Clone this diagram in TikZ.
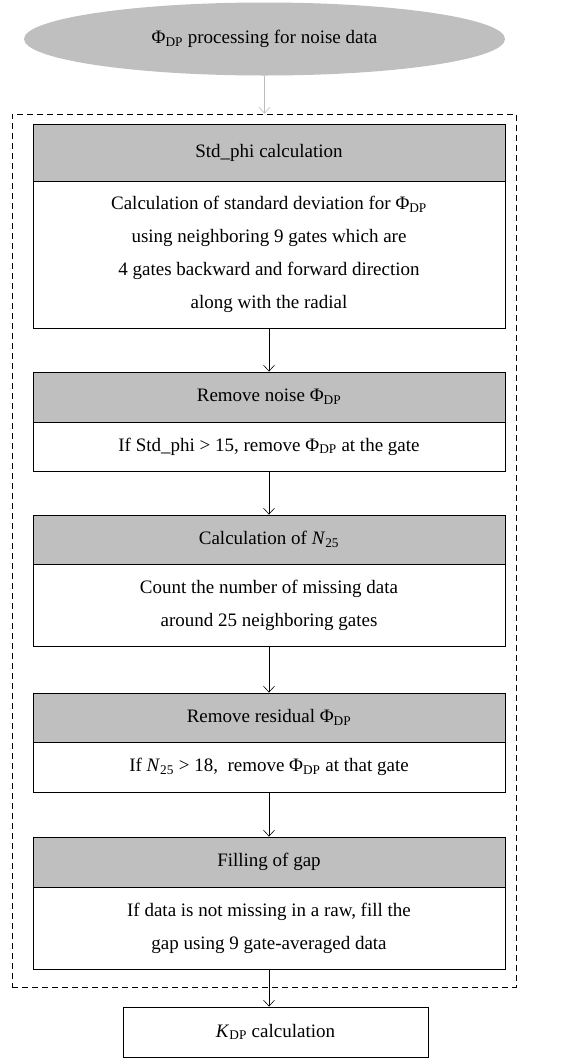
\documentclass[tikz,border=0pt]{standalone}
\usepackage{fontspec}
\setmainfont{Liberation Serif}
\usetikzlibrary{arrows.meta,shapes.geometric}
\definecolor{hdrgray}{RGB}{191,191,191}
\definecolor{linkgray}{RGB}{188,188,188}
\newcommand{\PhiDP}{Φ\textsubscript{DP}}
\newcommand{\Nsub}{\textit{N}\textsubscript{25}}
\newcommand{\Kdp}{\textit{K}\textsubscript{DP}}
\begin{document}
\begin{tikzpicture}[x=1pt,y=-1pt,
  every node/.style={font=\fontsize{19}{33}\selectfont, inner sep=0pt},
  hdr/.style={draw, fill=hdrgray, minimum width=472pt, line width=0.8pt},
  body/.style={draw, fill=white, minimum width=472pt, align=center, line width=0.8pt},
  arr/.style={-{Straight Barb[length=6pt,width=11pt]}, line width=0.6pt}]
\useasboundingbox (0,0) rectangle (588,1058);

% start terminal and the dashed processing frame
\node[ellipse, fill=hdrgray, minimum width=481pt, minimum height=73pt] (start) at (264.5,39) {\PhiDP\ processing for noise data};
\node[draw, dash pattern=on 6pt off 4pt, minimum width=504pt, minimum height=873pt, line width=0.7pt] (frame) at (264,550.5) {};

% processing steps: gray header over white body
\node[hdr, minimum height=57pt] (h1) at (269,152.5) {Std\_phi calculation};
\node[body, minimum height=147pt] (b1) at (269,254.5) {Calculation of standard deviation for \PhiDP\\ using neighboring 9 gates which are\\ 4 gates backward and forward direction\\ along with the radial};

\node[hdr, minimum height=50pt] (h2) at (269,397) {Remove noise \PhiDP};
\node[body, minimum height=49pt] (b2) at (269,446.5) {If Std\_phi > 15, remove \PhiDP\ at the gate};

\node[hdr, minimum height=49pt] (h3) at (269,539.5) {Calculation of \Nsub};
\node[body, minimum height=82pt] (b3) at (269,605) {Count the number of missing data\\ around 25 neighboring gates};

\node[hdr, minimum height=49pt] (h4) at (269,717.5) {Remove residual \PhiDP};
\node[body, minimum height=50pt] (b4) at (269,767) {If \Nsub\ > 18,\ \ remove \PhiDP\ at that gate};

\node[hdr, minimum height=50pt] (h5) at (269,862) {Filling of gap};
\node[body, minimum height=82pt] (b5) at (269,928) {If data is not missing in a raw, fill the\\ gap using 9 gate-averaged data};

\node[draw, minimum width=305pt, minimum height=50pt, line width=0.8pt] (kdp) at (275.5,1032) {\Kdp\ calculation};

% connectors
\draw[arr, draw=linkgray] (start.south) -- (start.south |- frame.north);
\draw[arr] (b1.south) -- (h2.north);
\draw[arr] (b2.south) -- (h3.north);
\draw[arr] (b3.south) -- (h4.north);
\draw[arr] (b4.south) -- (h5.north);
\draw[arr] (b5.south) -- (b5.south |- kdp.north);
\end{tikzpicture}
\end{document}
